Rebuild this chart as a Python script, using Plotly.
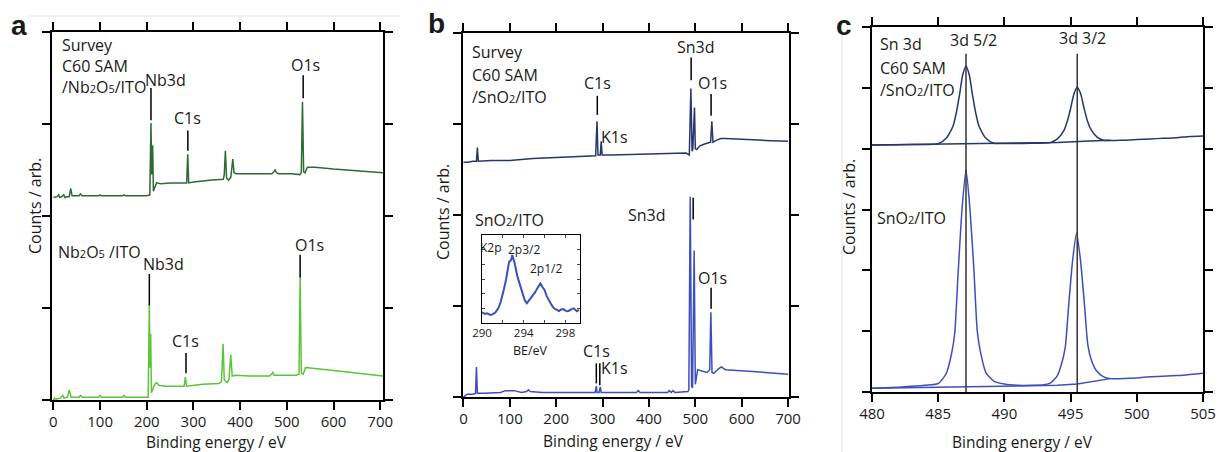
import plotly.graph_objects as go

W, H = 1220, 452

# ---------------- data ----------------
# Panel a: C60 SAM / Nb2O5 / ITO survey (top, dark green)
A_TOP_X = [0, 8, 11, 14, 18, 22, 25, 28, 34, 37, 40, 55, 58, 61, 98, 100, 103, 148, 151, 154,
           200, 206.5, 209, 210.6, 212.6, 214.2, 217, 221, 230, 250, 285.5, 287.7, 289.8, 300,
           340, 364, 366, 368.4, 371, 375, 380, 384.2, 387, 392, 420, 468, 472, 475, 478, 482,
           510, 528, 531, 533.5, 536, 539, 544, 560, 600, 650, 700, 706]
A_TOP_Y = [2.20, 2.21, 2.23, 2.20, 2.21, 2.23, 2.20, 2.21, 2.21, 2.30, 2.22, 2.22, 2.24, 2.22, 2.22, 2.23, 2.22, 2.22, 2.23, 2.22,
           2.22, 2.23, 3.01, 2.45, 2.77, 2.27, 2.31, 2.36, 2.35, 2.36, 2.36, 2.67, 2.36, 2.37,
           2.39, 2.40, 2.45, 2.71, 2.41, 2.39, 2.42, 2.62, 2.47, 2.46, 2.46, 2.46, 2.48, 2.50, 2.47, 2.46,
           2.46, 2.45, 2.47, 3.24, 2.48, 2.47, 2.53, 2.53, 2.51, 2.49, 2.47, 2.47]
# Panel a: Nb2O5 / ITO survey (bottom, light green)
A_BOT_X = [0, 2, 5, 15, 20, 23, 30, 34, 38, 55, 58, 62, 97, 100, 103, 148, 151, 154, 203,
           205.5, 207, 208.4, 210, 213, 217, 221, 226, 240, 280, 282.7, 285, 320, 355, 360, 363.4,
           366, 372, 376, 379.9, 383, 390, 420, 463, 467, 470, 473, 520, 526, 528.5, 531, 535,
           540, 545, 600, 650, 700, 706]
A_BOT_Y = [0.00, 0.02, 0.01, 0.02, 0.05, 0.02, 0.03, 0.11, 0.03, 0.03, 0.05, 0.03, 0.03, 0.05, 0.03, 0.03, 0.05, 0.03, 0.03,
           1.04, 0.35, 0.72, 0.08, 0.12, 0.17, 0.19, 0.16, 0.15, 0.15, 0.25, 0.15, 0.17, 0.18, 0.20, 0.61,
           0.22, 0.19, 0.22, 0.49, 0.26, 0.27, 0.26, 0.26, 0.28, 0.30, 0.27, 0.27, 0.28, 1.33, 0.29, 0.28,
           0.35, 0.35, 0.32, 0.29, 0.26, 0.26]

# Panel b: C60 SAM / SnO2 / ITO survey (top, navy)
B_TOP_X = [0, 10, 20, 28, 30, 32, 60, 100, 150, 200, 250, 285, 288, 290, 295, 297, 299, 320,
           400, 480, 487, 490.4, 493, 494.5, 498.2, 500, 503, 510, 520, 530, 533, 535.6, 538,
           545, 555, 565, 600, 650, 700]
B_TOP_Y = [2.58, 2.58, 2.59, 2.59, 2.74, 2.59, 2.60, 2.60, 2.62, 2.63, 2.64, 2.65, 3.03, 2.66, 2.66, 2.81, 2.66, 2.66,
           2.67, 2.68, 2.66, 3.39, 2.70, 2.72, 3.18, 2.73, 2.72, 2.76, 2.78, 2.79, 2.80, 3.03, 2.80,
           2.82, 2.84, 2.84, 2.83, 2.82, 2.81]
# Panel b: SnO2 / ITO survey (bottom, blue)
B_BOT_X = [0, 3, 8, 20, 26, 28, 30, 45, 80, 90, 110, 125, 136, 140, 144, 170, 250, 284, 286.5, 288,
           292.5, 295, 297, 350, 373, 377, 381, 440, 444, 448, 452, 456, 484, 486, 489, 492, 494,
           497.5, 500, 505, 512, 525, 531, 533.5, 536, 540, 550, 556, 565, 600, 650, 700]
B_BOT_Y = [0.00, 0.01, 0.03, 0.03, 0.04, 0.33, 0.04, 0.04, 0.05, 0.07, 0.07, 0.05, 0.06, 0.08, 0.06, 0.05, 0.05, 0.05, 0.12, 0.05,
           0.05, 0.11, 0.05, 0.05, 0.05, 0.07, 0.05, 0.05, 0.07, 0.05, 0.07, 0.05, 0.06, 0.08, 2.20, 0.12, 0.10,
           1.61, 0.14, 0.30, 0.29, 0.27, 0.30, 0.93, 0.27, 0.26, 0.31, 0.33, 0.30, 0.29, 0.27, 0.25]

# Inset of panel b: K2p region of SnO2/ITO
IN_X = [290.0, 290.3, 290.5, 290.8, 291.0, 291.3, 291.6, 291.8, 292.1, 292.3, 292.6, 292.8, 292.9, 293.1,
        293.4, 293.7, 293.9, 294.1, 294.3, 294.6, 294.8, 295.1, 295.3, 295.5, 295.6, 295.8, 296.0, 296.2,
        296.4, 296.7, 296.9, 297.2, 297.4, 297.6, 297.8, 298.1, 298.3, 298.6, 298.8, 299.1, 299.3]
IN_Y = [0.73, 0.62, 0.66, 0.55, 0.59, 0.73, 1.05, 1.45, 2.30, 2.93, 4.18, 4.30, 4.64, 4.18,
        3.16, 2.50, 2.02, 1.55, 1.34, 1.60, 1.79, 2.10, 2.36, 2.55, 2.70, 2.45, 2.25, 1.85,
        1.57, 1.20, 1.00, 0.88, 0.82, 0.92, 0.95, 0.80, 0.82, 0.95, 1.00, 0.80, 0.89]

# Panel c: Sn 3d, C60 SAM / SnO2 / ITO (top, navy)
C_TOP_X = [480, 482, 484, 485.0, 485.6, 486.1, 486.35, 486.6, 486.85, 487.1, 487.35, 487.6, 487.85,
           488.1, 488.6, 489.2, 490, 492, 493.5, 494.0, 494.5, 494.75, 495.0, 495.25, 495.5, 495.75,
           496.0, 496.25, 496.5, 497.0, 497.5, 499, 500, 501, 502, 503, 504, 505]
C_TOP_Y = [4.06, 4.065, 4.07, 4.08, 4.17, 4.36, 4.57, 4.87, 5.21, 5.36, 5.21, 4.87, 4.57,
           4.36, 4.17, 4.09, 4.085, 4.09, 4.10, 4.16, 4.30, 4.45, 4.66, 4.90, 5.01, 4.91,
           4.68, 4.47, 4.33, 4.19, 4.14, 4.14, 4.15, 4.16, 4.17, 4.18, 4.20, 4.21]
C_TOP_BG_X = [480, 487, 494, 496, 498]
C_TOP_BG_Y = [4.06, 4.08, 4.10, 4.12, 4.14]
# Panel c: Sn 3d, SnO2 / ITO (bottom, blue)
C_BOT_X = [480, 482, 484, 485, 485.6, 486.0, 486.25, 486.5, 486.8, 487.1, 487.4, 487.7, 487.95,
           488.2, 488.6, 489.2, 490, 491, 492, 493, 493.5, 494.0, 494.35, 494.6, 494.85, 495.15,
           495.45, 495.75, 496.05, 496.3, 496.55, 496.95, 497.5, 498, 500, 501, 503, 505]
C_BOT_Y = [0.06, 0.08, 0.11, 0.14, 0.30, 0.62, 0.97, 1.94, 3.00, 3.65, 3.00, 2.00, 1.00,
           0.65, 0.32, 0.18, 0.13, 0.11, 0.11, 0.12, 0.15, 0.27, 0.49, 0.74, 1.41, 2.16,
           2.61, 2.16, 1.43, 0.78, 0.54, 0.35, 0.25, 0.22, 0.23, 0.25, 0.27, 0.31]
C_BOT_BG_X = [480, 487, 494, 495.5, 497, 498]
C_BOT_BG_Y = [0.06, 0.09, 0.11, 0.13, 0.19, 0.22]

# peak marker lines: (energy, y_from, y_to)
A_MARKS = [(209, 3.04, 3.39), (288, 2.71, 2.93), (535, 3.28, 3.53),
           (205.5, 1.03, 1.37), (284, 0.29, 0.51), (528.5, 1.33, 1.58)]
B_MARKS = [(288.6, 3.10, 3.31), (491, 3.48, 3.73), (534, 3.09, 3.33),
           (495.4, 1.95, 2.19), (534, 0.97, 1.20), (286.5, 0.15, 0.37), (294, 0.13, 0.37)]
C_MARKS = [(487.1, 0, 5.56), (495.5, 0, 5.56)]

SURVEY_TICKS = [0, 100, 200, 300, 400, 500, 600, 700]
C_TICKS = [480, 485, 490, 495, 500, 505]

# ---------------- figure ----------------
DARK_GREEN = "#2e6a33"
LIGHT_GREEN = "#5cc43b"
NAVY = "#28366f"
BLUE = "#3d4fbd"
FONT = "Open Sans"
FS = 16


def px_x(p):
    return p / W


def px_y(p):
    return 1 - p / H


fig = go.Figure()


def add_line(x, y, color, xa, ya, width=1.5, shape="linear"):
    fig.add_trace(go.Scatter(x=x, y=y, mode="lines",
                             line=dict(color=color, width=width, shape=shape, smoothing=0.6),
                             xaxis=xa, yaxis=ya, hoverinfo="skip"))


add_line(A_TOP_X, A_TOP_Y, DARK_GREEN, "x", "y")
add_line(A_BOT_X, A_BOT_Y, LIGHT_GREEN, "x", "y")
add_line(B_TOP_X, B_TOP_Y, NAVY, "x2", "y2")
add_line(B_BOT_X, B_BOT_Y, BLUE, "x2", "y2")
add_line(C_TOP_X, C_TOP_Y, NAVY, "x3", "y3", shape="spline")
add_line(C_TOP_BG_X, C_TOP_BG_Y, NAVY, "x3", "y3")
add_line(C_BOT_X, C_BOT_Y, BLUE, "x3", "y3", shape="spline")
add_line(C_BOT_BG_X, C_BOT_BG_Y, BLUE, "x3", "y3")
add_line(IN_X, IN_Y, BLUE, "x4", "y4", width=2)

axis_common = dict(showline=True, linecolor="black", linewidth=1.5, mirror="allticks",
                   ticks="outside", ticklen=8, tickwidth=1.5, tickcolor="black",
                   showgrid=False, zeroline=False, automargin=False,
                   tickfont=dict(family=FONT, size=FS, color="#1a1a1a"))
x_common = dict(axis_common, ticklabelstandoff=-1)
x_common["tickfont"] = dict(family=FONT, size=15, color="#1a1a1a")

fig.update_layout(
    width=W, height=H, margin=dict(l=0, r=0, t=0, b=0, pad=0, autoexpand=False),
    paper_bgcolor="white", plot_bgcolor="white", showlegend=False,
    xaxis=dict(domain=[px_x(52), px_x(383)], range=[-3, 706], tickvals=SURVEY_TICKS,
               anchor="y", **x_common),
    yaxis=dict(domain=[px_y(400), px_y(32)], range=[0, 4], tickvals=[0, 1, 2, 3, 4],
               showticklabels=False, anchor="x", **axis_common),
    xaxis2=dict(domain=[px_x(463), px_x(789)], range=[-1, 702], tickvals=SURVEY_TICKS,
                anchor="y2", **x_common),
    yaxis2=dict(domain=[px_y(397), px_y(33)], range=[0, 4], tickvals=[0, 1, 2, 3, 4],
                showticklabels=False, anchor="x2", **axis_common),
    xaxis3=dict(domain=[px_x(872), px_x(1203)], range=[480, 505], tickvals=C_TICKS,
                anchor="y3", **x_common),
    yaxis3=dict(domain=[px_y(392), px_y(27)], range=[0, 6], tickvals=[0, 1, 2, 3, 4, 5, 6],
                showticklabels=False, anchor="x3", **axis_common),
    xaxis4=dict(domain=[px_x(482), px_x(580)], range=[290, 299.4],
                tickvals=[290, 292, 294, 296, 298], ticktext=["290", "", "294", "", "298"],
                showline=True, linecolor="black", linewidth=1, mirror="allticks",
                ticks="inside", ticklen=3, tickwidth=1, showgrid=False, zeroline=False,
                automargin=False, ticklabelstandoff=-1,
                tickfont=dict(family=FONT, size=11.5, color="#1a1a1a"), anchor="y4"),
    yaxis4=dict(domain=[px_y(323), px_y(235)], range=[0, 6], tickvals=[0, 1, 2, 3, 4, 5, 6],
                showticklabels=False, showline=True, linecolor="black", linewidth=1,
                mirror="allticks", ticks="inside", ticklen=3, tickwidth=1, automargin=False,
                showgrid=False, zeroline=False, anchor="x4"),
)

shapes = []
for e, y0, y1 in A_MARKS:
    shapes.append(dict(type="line", xref="x", yref="y", x0=e, x1=e, y0=y0, y1=y1,
                       line=dict(color="black", width=1.5)))
for e, y0, y1 in B_MARKS:
    shapes.append(dict(type="line", xref="x2", yref="y2", x0=e, x1=e, y0=y0, y1=y1,
                       line=dict(color="black", width=1.5)))
for e, y0, y1 in C_MARKS:
    shapes.append(dict(type="line", xref="x3", yref="y3", x0=e, x1=e, y0=y0, y1=y1,
                       line=dict(color="#333333", width=1.5)))
# faint page artefacts
shapes.append(dict(type="line", xref="paper", yref="paper", x0=px_x(28), x1=px_x(400),
                   y0=px_y(16), y1=px_y(16), line=dict(color="#e2e2e2", width=1)))
shapes.append(dict(type="line", xref="paper", yref="paper", x0=px_x(842), x1=px_x(842),
                   y0=px_y(30), y1=px_y(452), line=dict(color="#e2e2e2", width=1)))
fig.update_layout(shapes=shapes)


def sub(d):
    return '<span style="font-size:11px">' + d + '</span>'


ann = []


def txt(x, y, s, size=FS, xanchor="center", angle=0, bold=False, family=FONT):
    ann.append(dict(x=px_x(x), y=px_y(y), xref="paper", yref="paper",
                    text=("<b>%s</b>" % s) if bold else s,
                    showarrow=False, xanchor=xanchor, yanchor="middle", textangle=angle,
                    font=dict(family=family, size=size, color="#1a1a1a")))


# panel labels
txt(19, 25, "a", size=28, bold=True, family="Liberation Sans")
txt(436, 24, "b", size=28, bold=True, family="Liberation Sans")
txt(844, 25, "c", size=28, bold=True, family="Liberation Sans")

# panel a texts
txt(60, 45, "Survey", xanchor="left")
txt(60, 66, "C60 SAM", xanchor="left")
txt(60, 87, "/Nb" + sub("2") + "O" + sub("5") + "/ITO", xanchor="left")
txt(165, 80, "Nb3d")
txt(187, 118, "C1s")
txt(305, 65, "O1s")
txt(56, 252, "Nb" + sub("2") + "O" + sub("5") + " /ITO", xanchor="left")
txt(163, 264, "Nb3d")
txt(185, 341, "C1s")
txt(309, 245, "O1s")
txt(35, 206, "Counts / arb.", angle=-90)
txt(216, 441.5, "Binding energy / eV", size=15.5)

# panel b texts
txt(470, 52, "Survey", xanchor="left")
txt(470, 75, "C60 SAM", xanchor="left")
txt(470, 97, "/SnO" + sub("2") + "/ITO", xanchor="left")
txt(597, 83, "C1s")
txt(614, 137, "K1s")
txt(696, 47, "Sn3d")
txt(713, 83, "O1s")
txt(473, 220, "SnO" + sub("2") + "/ITO", xanchor="left")
txt(647, 215, "Sn3d")
txt(713, 278, "O1s")
txt(596, 351, "C1s")
txt(614, 368, "K1s")
txt(443, 212, "Counts / arb.", angle=-90)
txt(613, 441, "Binding energy / eV", size=15.5)
# inset texts
txt(491, 248, "K2p", size=12)
txt(524, 249, "2p3/2", size=12)
txt(546, 268, "2p1/2", size=12)
txt(530, 350, "BE/eV", size=12.5)

# panel c texts
txt(878, 44, "Sn 3d", xanchor="left")
txt(878, 68, "C60 SAM", xanchor="left")
txt(878, 90, "/SnO" + sub("2") + "/ITO", xanchor="left")
txt(973, 40, "3d 5/2")
txt(1082, 38, "3d 3/2")
txt(875, 218, "SnO" + sub("2") + "/ITO", xanchor="left")
txt(849, 207, "Counts / arb.", angle=-90)
txt(1022, 441.5, "Binding energy / eV", size=15.5)

fig.update_layout(annotations=ann)

fig.write_html("out.html")
